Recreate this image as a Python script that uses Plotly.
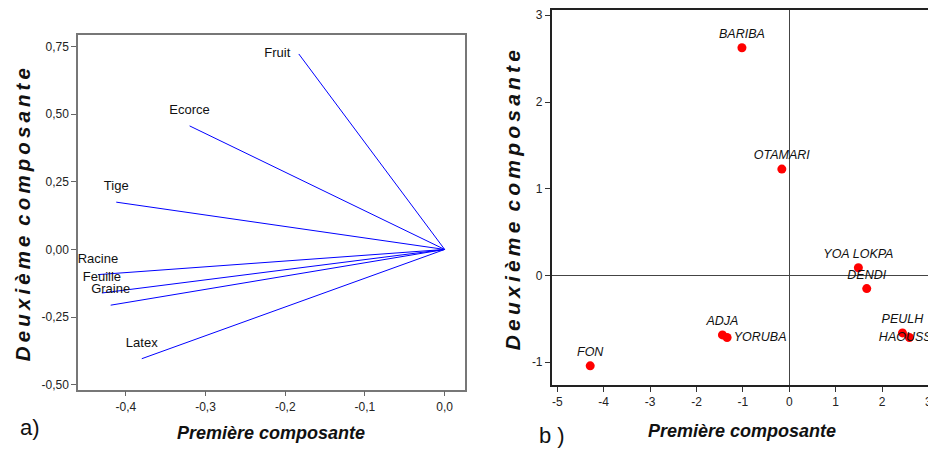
import plotly.graph_objects as go

# ---- Panel a) : variable loadings ----
var_names = ["Fruit", "Ecorce", "Tige", "Racine", "Feuille", "Graine", "Latex"]
var_pc1 = [-0.183, -0.320, -0.412, -0.435, -0.430, -0.419, -0.380]
var_pc2 = [0.723, 0.457, 0.175, -0.093, -0.161, -0.206, -0.404]
var_textpos = ["middle left", "top center", "top center", "top center", "top center", "top center", "top center"]

a_xticks = [-0.4, -0.3, -0.2, -0.1, 0.0]
a_xticktext = ["-0,4", "-0,3", "-0,2", "-0,1", "0,0"]
a_yticks = [-0.5, -0.25, 0.0, 0.25, 0.5, 0.75]
a_yticktext = ["-0,50", "-0,25", "0,00", "0,25", "0,50", "0,75"]

# ---- Panel b) : ethnic group scores ----
grp_names = ["BARIBA", "OTAMARI", "YOA LOKPA", "DENDI", "PEULH", "HAOUSSA", "ADJA", "YORUBA", "FON"]
grp_pc1 = [-1.02, -0.16, 1.49, 1.67, 2.44, 2.59, -1.44, -1.34, -4.29]
grp_pc2 = [2.625, 1.226, 0.088, -0.152, -0.663, -0.716, -0.686, -0.716, -1.043]
grp_textpos = ["top center", "top center", "top center", "top center", "top center",
               "middle center", "top center", "middle right", "top center"]

b_xticks = [-5, -4, -3, -2, -1, 0, 1, 2, 3]
b_xticktext = ["-5", "-4", "-3", "-2", "-1", "0", "1", "2", "3"]
b_yticks = [-1, 0, 1, 2, 3]
b_yticktext = ["-1", "0", "1", "2", "3"]

FONT = "Liberation Sans, Arial, sans-serif"

# page offset compensation (body margin)
W, H, OFF = 928, 442, 8
def px(X):
    return (X - OFF) / W
def py(Y):
    return 1 - (Y - OFF) / H

# vectors from origin
lx, ly = [], []
for x, y in zip(var_pc1, var_pc2):
    lx += [0, x, None]
    ly += [0, y, None]

fig = go.Figure()
fig.add_trace(go.Scatter(x=lx, y=ly, mode="lines", line=dict(color="#0000ff", width=1),
                         xaxis="x", yaxis="y", hoverinfo="skip", showlegend=False))
fig.add_trace(go.Scatter(x=var_pc1, y=var_pc2, mode="markers+text", text=var_names,
                         textposition=var_textpos, marker=dict(size=12, opacity=0),
                         textfont=dict(family=FONT, size=13, color="#111111"),
                         xaxis="x", yaxis="y", showlegend=False, cliponaxis=False))

fig.add_trace(go.Scatter(x=grp_pc1, y=grp_pc2, mode="markers+text", text=grp_names,
                         textposition=grp_textpos,
                         marker=dict(size=9, color="#ff0000"),
                         textfont=dict(family=FONT, size=12.5, color="#111111", style="italic"),
                         xaxis="x2", yaxis="y2", showlegend=False, cliponaxis=True))

axfont = dict(family=FONT, size=12, color="#222222")

fig.update_layout(
    width=W, height=H,
    margin=dict(l=0, r=0, t=0, b=0),
    paper_bgcolor="white", plot_bgcolor="white",
    showlegend=False,
    xaxis=dict(domain=[px(78), px(465)], range=[-0.460, 0.0255], anchor="y",
               tickvals=a_xticks, ticktext=a_xticktext, ticks="outside", ticklen=5,
               tickcolor="#666666", showline=True, linecolor="#777777", linewidth=1.5,
               mirror=True, showgrid=False, zeroline=False, tickfont=axfont),
    yaxis=dict(domain=[py(391), py(33)], range=[-0.518, 0.794], anchor="x",
               tickvals=a_yticks, ticktext=a_yticktext, ticks="outside", ticklen=5,
               tickcolor="#666666", showline=True, linecolor="#777777", linewidth=1.5,
               mirror=True, showgrid=False, zeroline=False, tickfont=axfont),
    xaxis2=dict(domain=[px(551.7), px(931.7)], range=[-5.12, 3.07], anchor="y2",
                tickvals=b_xticks, ticktext=b_xticktext, ticks="outside", ticklen=5,
                tickcolor="#333333", showline=True, linecolor="#222222", linewidth=1.5,
                mirror=True, showgrid=False, zeroline=True, zerolinecolor="#444444",
                zerolinewidth=1, tickfont=axfont),
    yaxis2=dict(domain=[py(386.7), 1.0], range=[-1.267, 3.061], anchor="x2",
                tickvals=b_yticks, ticktext=b_yticktext, ticks="outside", ticklen=5,
                tickcolor="#333333", showline=True, linecolor="#222222", linewidth=1.5,
                mirror=True, showgrid=False, zeroline=True, zerolinecolor="#444444",
                zerolinewidth=1, tickfont=axfont),
)

TS = "\u2009"
ytitle = "<b><i>" + TS.join("Deuxième") + " " + TS + TS.join("composante") + "</i></b>"
ann = [
    dict(text="<b><i>Première composante</i></b>", x=271, y=435, size=18),
    dict(text="<b><i>Première composante</i></b>", x=742, y=433, size=18),
    dict(text=ytitle, x=22, y=215, textangle=-90, size=20.5),
    dict(text=ytitle, x=512, y=200, textangle=-90, size=21),
]
for a in ann:
    fig.add_annotation(text=a["text"], x=px(a["x"]), y=py(a["y"]), xref="paper", yref="paper",
                       xanchor="center", yanchor="middle", showarrow=False,
                       textangle=a.get("textangle", 0),
                       font=dict(family=FONT, size=a["size"], color="#111111"))

fig.add_annotation(text="a)", x=px(30), y=py(429), xref="paper", yref="paper",
                   showarrow=False, xanchor="center", yanchor="middle",
                   font=dict(family=FONT, size=22, color="#111111"))
fig.add_annotation(text="b )", x=px(552), y=py(437), xref="paper", yref="paper",
                   showarrow=False, xanchor="center", yanchor="middle",
                   font=dict(family=FONT, size=22, color="#111111"))

fig.write_html("out.html")
